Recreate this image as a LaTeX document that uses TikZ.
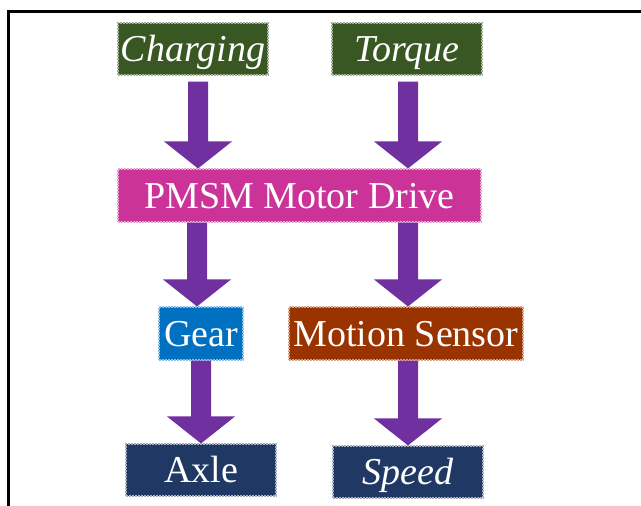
\documentclass[tikz,border=0pt]{standalone}
\usepackage{fontspec}
\setmainfont{Liberation Serif}
\usetikzlibrary{calc}
\definecolor{cgreen}{HTML}{385723}
\definecolor{cmagenta}{HTML}{CC3399}
\definecolor{cblue}{HTML}{0070C0}
\definecolor{cbrown}{HTML}{993300}
\definecolor{cnavy}{HTML}{203864}
\definecolor{cpurple}{HTML}{7030A0}
\tikzset{
  boxbase/.style={rectangle, inner sep=0pt, text=white, line width=1.1pt,
    dash pattern=on 1.6pt off 1.4pt,
    font=\fontsize{38}{40}\selectfont, text height=28.2pt, text depth=3pt},
  greenbox/.style={boxbase, fill=cgreen, draw=white!55!cgreen},
  magbox/.style={boxbase, fill=cmagenta, draw=white!55!cmagenta},
  bluebox/.style={boxbase, fill=cblue, draw=white!55!cblue},
  brownbox/.style={boxbase, fill=cbrown, draw=white!55!cbrown},
  navybox/.style={boxbase, fill=cnavy, draw=white!60!cnavy},
  blkarrow/.style={fill=cpurple},
  frameline/.style={draw=black, line width=3pt}
}
\newcommand{\blockarrow}[2]{%
  \fill[blkarrow] ($(#1)+(-10,0)$) -- ($(#2)+(-10,-27)$) -- ($(#2)+(-34,-27)$)
    -- (#2) -- ($(#2)+(34,-27)$) -- ($(#2)+(10,-27)$) -- ($(#1)+(10,0)$) -- cycle;}
\begin{document}
\begin{tikzpicture}[x=1pt,y=-1pt]
\useasboundingbox (0,0) rectangle (641,506);
\fill[white] (0,0) rectangle (641,506);
\draw[frameline] (8,506) -- (8,11) -- (641,11);

\node[greenbox, minimum width=150pt, minimum height=52pt] (charging) at (193,49) {\itshape Charging};
\node[greenbox, minimum width=150pt, minimum height=52pt] (torque) at (407,49) {\itshape Torque};
\node[magbox, minimum width=363pt, minimum height=53pt] (pmsm) at (299.5,195.5) {PMSM Motor Drive};
\node[bluebox, minimum width=84pt, minimum height=53pt] (gear) at (201,333.5) {Gear};
\node[brownbox, minimum width=234pt, minimum height=53pt] (motion) at (406,333.5) {Motion Sensor};
\node[navybox, minimum width=150pt, minimum height=52pt] (axle) at (201,470) {Axle};
\node[navybox, minimum width=150pt, minimum height=52pt] (speed) at (408,472) {\itshape Speed};

\coordinate (a1) at ([xshift=5pt,yshift=-6pt]charging.south);
\coordinate (a2) at ([xshift=1pt,yshift=-6pt]torque.south);
\coordinate (a1e) at (a1 |- pmsm.north);
\coordinate (a2e) at (a2 |- pmsm.north);
\coordinate (a3) at ([xshift=-1pt]a1 |- pmsm.south);
\coordinate (a3e) at (a3 |- gear.north);
\coordinate (a4) at (a2 |- pmsm.south);
\coordinate (a4e) at (a4 |- motion.north);
\coordinate (a5) at (gear.south);
\coordinate (a5e) at (a5 |- axle.north);
\coordinate (a6) at (a2 |- motion.south);
\coordinate (a6e) at (a6 |- speed.north);

\blockarrow{a1}{a1e}
\blockarrow{a2}{a2e}
\blockarrow{a3}{a3e}
\blockarrow{a4}{a4e}
\blockarrow{a5}{a5e}
\blockarrow{a6}{a6e}
\end{tikzpicture}
\end{document}
